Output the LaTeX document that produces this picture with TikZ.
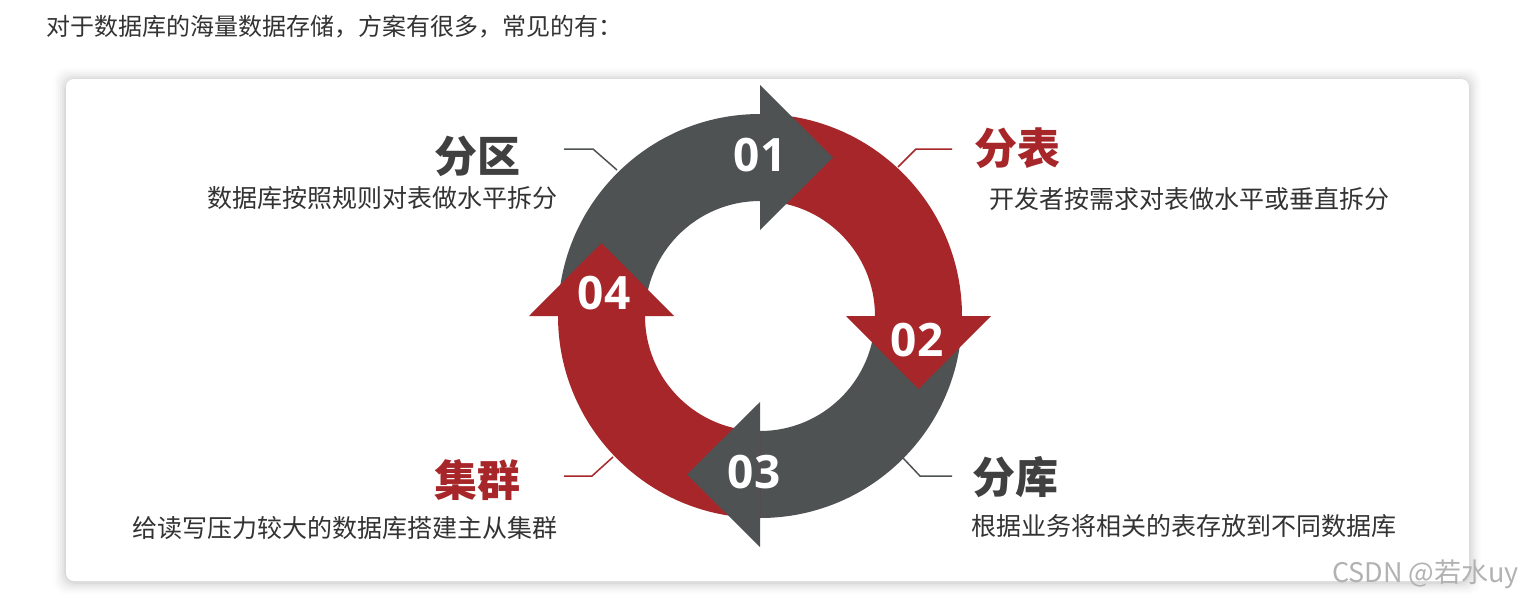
\documentclass[tikz,border=0pt]{standalone}
\usepackage{fontspec}
\setmainfont{Noto Sans CJK SC}
\newfontfamily\numfont{Open Sans}
\definecolor{ringgray}{HTML}{4E5253}
\definecolor{ringred}{HTML}{A7262A}
\definecolor{titlegray}{HTML}{404040}
\definecolor{txtgray}{HTML}{333333}
\tikzset{
  band/.style={draw=none},
  numlabel/.style={inner sep=0pt, text=white, font=\numfont\bfseries\fontsize{46}{46}\selectfont},
  titlelabel/.style={inner sep=0pt, font=\bfseries\fontsize{43}{43}\selectfont},
  desclabel/.style={inner sep=0pt, text=txtgray, font=\fontsize{25}{25}\selectfont},
  leader/.style={line width=1.5pt},
}
\begin{document}
\begin{tikzpicture}[x=1pt,y=1pt]
\useasboundingbox (0,0) rectangle (1523,-600);
\fill[white] (0,0) rectangle (1523,-600);

% header
\node[anchor=west, inner sep=0pt, text=txtgray, font=\fontsize{24}{24}\selectfont] (hdr) at (46,-27) {对于数据库的海量数据存储，方案有很多，常见的有：};

% card shadow
\foreach \i/\o in {12/0.010, 10/0.014, 8/0.018, 6/0.024, 4/0.032, 2/0.045} {
  \fill[black, opacity=\o, rounded corners=12pt] (66-\i,-79+\i-1) rectangle (1469+\i,-581-\i-1);
}
\fill[white, rounded corners=8pt] (66,-79) rectangle (1469,-581);

% ring bands (centre 760,-316; outer 202, inner 115)
\fill[ringgray] (558,-316) arc[start angle=180, end angle=90, radius=202] -- (760,-201) arc[start angle=90, end angle=180, radius=115] -- cycle;
\fill[ringred] (760,-114) arc[start angle=90, end angle=0, radius=202] -- (875,-316) arc[start angle=0, end angle=90, radius=115] -- cycle;
\fill[ringgray] (962,-316) arc[start angle=0, end angle=-90, radius=202] -- (760,-431) arc[start angle=-90, end angle=0, radius=115] -- cycle;
\fill[ringred] (760,-518) arc[start angle=-90, end angle=-180, radius=202] -- (645,-316) arc[start angle=180, end angle=270, radius=115] -- cycle;

% arrow heads
\fill[ringgray] (760,-85) -- (833,-157.5) -- (760,-230) -- cycle;
\fill[ringred] (846,-316) -- (991,-316) -- (918.5,-389) -- cycle;
\fill[ringgray] (760,-402) -- (760,-547) -- (687,-474.5) -- cycle;
\fill[ringred] (674,-316) -- (529,-316) -- (601.5,-243) -- cycle;

% numbers
\node[numlabel] (n1) at (760,-155) {01};
\node[numlabel] (n2) at (917,-340) {02};
\node[numlabel] (n3) at (754,-472) {03};
\node[numlabel] (n4) at (604,-293) {04};

% titles and descriptions
\node[titlelabel, anchor=east, text=titlegray] (t1) at (521,-156) {分区};
\node[desclabel, anchor=east] (d1) at (558,-198) {数据库按照规则对表做水平拆分};
\node[titlelabel, anchor=west, text=ringred] (t2) at (974,-148) {分表};
\node[desclabel, anchor=west] (d2) at (989,-199) {开发者按需求对表做水平或垂直拆分};
\node[titlelabel, anchor=west, text=titlegray] (t3) at (972,-477) {分库};
\node[desclabel, anchor=west] (d3) at (971,-526) {根据业务将相关的表存放到不同数据库};
\node[titlelabel, anchor=east, text=ringred] (t4) at (521,-480) {集群};
\node[desclabel, anchor=east] (d4) at (558,-528) {给读写压力较大的数据库搭建主从集群};

% leader lines
\coordinate (l1a) at (617,-170); \coordinate (l1b) at (593,-149); \coordinate (l1c) at (564,-149);
\coordinate (l2a) at (898,-167); \coordinate (l2b) at (916,-149); \coordinate (l2c) at (952,-149);
\coordinate (l3a) at (903,-458); \coordinate (l3b) at (920,-476); \coordinate (l3c) at (952,-476);
\coordinate (l4a) at (613,-457); \coordinate (l4b) at (592,-476); \coordinate (l4c) at (564,-476);
\draw[leader, ringgray] (l1a) -- (l1b) -- (l1c);
\draw[leader, ringred] (l2a) -- (l2b) -- (l2c);
\draw[leader, ringgray] (l3a) -- (l3b) -- (l3c);
\draw[leader, ringred] (l4a) -- (l4b) -- (l4c);

% watermark
\node[anchor=east, inner sep=0pt, text=black!30, font=\fontsize{27}{27}\selectfont] (wm) at (1519,-574) {CSDN @若水uy};
\end{tikzpicture}
\end{document}
